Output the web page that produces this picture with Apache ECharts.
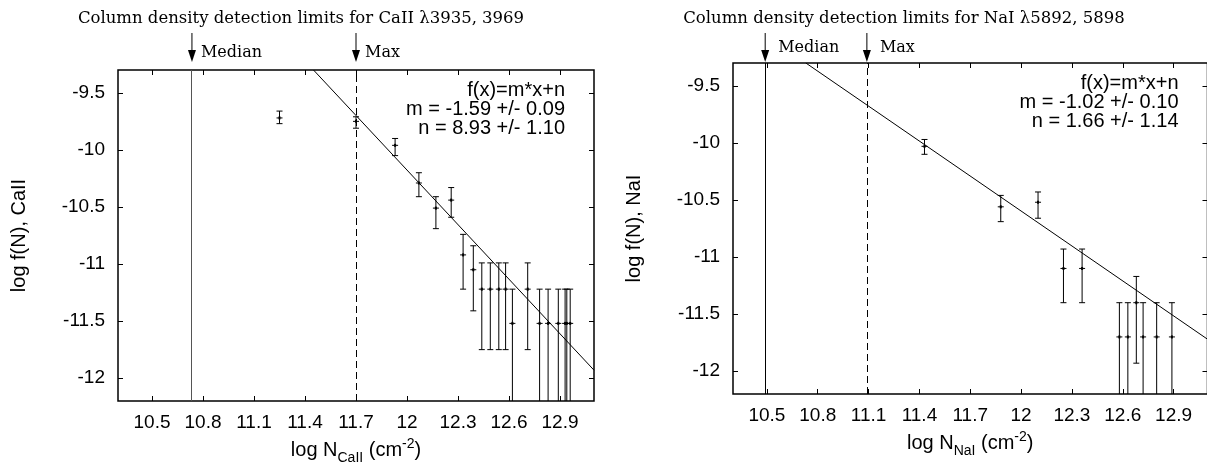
<!DOCTYPE html>
<html>
<head>
<meta charset="utf-8">
<script src="https://cdn.jsdelivr.net/npm/echarts@6/dist/echarts.min.js"></script>
<style>
  html, body { margin: 0; padding: 0; background: #fff; }
  #chart { width: 1207px; height: 467px; }
</style>
</head>
<body>
<div id="chart"></div>
<script>
// tick positions (both panels share them)
var xTicks = [10.5, 10.8, 11.1, 11.4, 11.7, 12, 12.3, 12.6, 12.9];
var yTicks = [-12, -11.5, -11, -10.5, -10, -9.5];

// CaII: log N, log f(N), lower / upper end of the error bar
var caX  = [11.25, 11.70, 11.93, 12.07, 12.17, 12.26, 12.33, 12.39, 12.44, 12.49, 12.54, 12.58, 12.62, 12.71, 12.78, 12.83, 12.89, 12.93, 12.94, 12.96];
var caY  = [-9.72, -9.75, -9.96, -10.29, -10.51, -10.44, -10.92, -11.05, -11.22, -11.22, -11.22, -11.22, -11.52, -11.22, -11.52, -11.52, -11.52, -11.52, -11.52, -11.52];
var caLo = [-9.77, -9.81, -10.05, -10.41, -10.69, -10.59, -11.22, -11.41, -11.75, -11.75, -11.75, -11.75, -12.6, -11.75, -12.6, -12.6, -12.6, -12.6, -12.6, -12.6];
var caHi = [-9.66, -9.71, -9.90, -10.20, -10.41, -10.33, -10.74, -10.84, -10.99, -10.99, -10.99, -10.99, -11.22, -10.99, -11.22, -11.22, -11.22, -11.22, -11.22, -11.22];
var caFitX = [11.45, 13.1];
var caFitY = [-9.3, -11.93];
var caLimitX = [10.735, 11.7];   // Median, Max

// NaI
var naX  = [11.43, 11.88, 12.10, 12.25, 12.36, 12.58, 12.63, 12.68, 12.72, 12.80, 12.89];
var naY  = [-10.03, -10.56, -10.52, -11.10, -11.10, -11.70, -11.70, -11.40, -11.70, -11.70, -11.70];
var naLo = [-10.10, -10.69, -10.66, -11.40, -11.40, -12.6, -12.6, -11.93, -12.6, -12.6, -12.6];
var naHi = [-9.97, -10.46, -10.43, -10.93, -10.93, -11.40, -11.40, -11.17, -11.40, -11.40, -11.40];
var naFitX = [10.73, 13.1];
var naFitY = [-9.3, -11.72];
var naLimitX = [10.49, 11.09];

var limitNames = ['Median', 'Max'];

var panels = [
  {
    grid: { left: 118, top: 70, width: 476, height: 331 },
    title: 'Column density detection limits for CaII λ3935, 3969', titleX: 301,
    xName: '{t|log N}{s|CaII}{t| (cm}{p|-2}{t|)}', yName: 'log f(N), CaII',
    fitText: 'f(x)=m*x+n\nm = -1.59 +/- 0.09\nn = 8.93 +/- 1.10',
    x: caX, y: caY, lo: caLo, hi: caHi, fitX: caFitX, fitY: caFitY, limits: caLimitX,
    medianColor: '#555', limitTextDx: 9, limitTextY: 53
  },
  {
    grid: { left: 733, top: 63, width: 474.5, height: 331 },
    title: 'Column density detection limits for NaI λ5892, 5898', titleX: 904,
    xName: '{t|log N}{s|NaI}{t| (cm}{p|-2}{t|)}', yName: 'log f(N), NaI',
    fitText: 'f(x)=m*x+n\nm = -1.02 +/- 0.10\nn = 1.66 +/- 1.14',
    x: naX, y: naY, lo: naLo, hi: naHi, fitX: naFitX, fitY: naFitY, limits: naLimitX,
    medianColor: '#000', limitTextDx: 13, limitTextY: 48
  }
];

var sans = 'Liberation Sans, Arial, sans-serif';
var serif = 'DejaVu Serif, serif';

function errorRender(params, api) {
  var c = api.coord([api.value(0), api.value(1)]);
  var t = api.coord([api.value(0), api.value(3)]);
  var b = api.coord([api.value(0), api.value(2)]);
  var st = { stroke: '#000', lineWidth: 1 };
  return {
    type: 'group',
    children: [
      { type: 'line', shape: { x1: c[0], y1: t[1], x2: c[0], y2: b[1] }, style: st },
      { type: 'line', shape: { x1: c[0] - 3, y1: t[1], x2: c[0] + 3, y2: t[1] }, style: st },
      { type: 'line', shape: { x1: c[0] - 3, y1: b[1], x2: c[0] + 3, y2: b[1] }, style: st },
      { type: 'line', shape: { x1: c[0] - 3, y1: c[1], x2: c[0] + 3, y2: c[1] }, style: st },
      { type: 'line', shape: { x1: c[0], y1: c[1] - 1.5, x2: c[0], y2: c[1] + 1.5 }, style: { stroke: '#000', lineWidth: 2 } }
    ]
  };
}

var grids = [], xAxes = [], yAxes = [], series = [];
panels.forEach(function (p, i) {
  grids.push({
    left: p.grid.left, top: p.grid.top, width: p.grid.width, height: p.grid.height,
    show: true, borderColor: '#000', borderWidth: 1.5, backgroundColor: 'transparent',
    containLabel: false, outerBoundsMode: 'none'
  });
  var tick = { inside: true, length: 5, customValues: xTicks, lineStyle: { color: '#000', width: 1 } };
  xAxes.push({
    type: 'value', gridIndex: i, min: 10.3, max: 13.1, position: 'bottom',
    axisLine: { show: false }, splitLine: { show: false }, axisTick: tick,
    axisLabel: { customValues: xTicks, margin: 12, fontSize: 19, color: '#000', fontFamily: sans,
      formatter: function (v) { return String(v); } },
    name: p.xName, nameLocation: 'middle', nameGap: 33,
    nameTextStyle: {
      color: '#000', fontFamily: sans, fontSize: 20,
      rich: {
        t: { fontSize: 20, fontFamily: sans, color: '#000', lineHeight: 28, verticalAlign: 'middle' },
        s: { fontSize: 14, fontFamily: sans, color: '#000', verticalAlign: 'bottom' },
        p: { fontSize: 14, fontFamily: sans, color: '#000', verticalAlign: 'top' }
      }
    }
  });
  xAxes.push({
    type: 'value', gridIndex: i, min: 10.3, max: 13.1, position: 'top',
    axisLine: { show: false }, splitLine: { show: false }, axisTick: tick, axisLabel: { show: false }
  });
  var ytick = { inside: true, length: 5, customValues: yTicks, lineStyle: { color: '#000', width: 1 } };
  yAxes.push({
    type: 'value', gridIndex: i, min: -12.2, max: -9.3, position: 'left',
    axisLine: { show: false }, splitLine: { show: false }, axisTick: ytick,
    axisLabel: { customValues: yTicks, margin: 13, fontSize: 19, color: '#000', fontFamily: sans,
      formatter: function (v) { return String(v); } },
    name: p.yName, nameLocation: 'middle', nameGap: 89, nameRotate: 90,
    nameTextStyle: { color: '#000', fontFamily: sans, fontSize: 20 }
  });
  yAxes.push({
    type: 'value', gridIndex: i, min: -12.2, max: -9.3, position: 'right',
    axisLine: { show: false }, splitLine: { show: false }, axisTick: ytick, axisLabel: { show: false }
  });

  series.push({
    type: 'line', xAxisIndex: 2 * i, yAxisIndex: 2 * i,
    data: p.fitX.map(function (x, k) { return [x, p.fitY[k]]; }),
    showSymbol: false, symbol: 'none', clip: true,
    lineStyle: { color: '#000', width: 1 },
    markLine: {
      silent: true, symbol: ['none', 'none'], label: { show: false },
      data: [
        { xAxis: p.limits[0], lineStyle: { type: 'solid', color: p.medianColor, width: 1 } },
        { xAxis: p.limits[1], lineStyle: { type: [7, 4], color: '#000', width: 1 } }
      ]
    }
  });
  series.push({
    type: 'custom', xAxisIndex: 2 * i, yAxisIndex: 2 * i, clip: true,
    data: p.x.map(function (x, k) { return [x, p.y[k], p.lo[k], p.hi[k]]; }),
    renderItem: errorRender
  });
});

var chart = echarts.init(document.getElementById('chart'));
chart.setOption({
  animation: false,
  backgroundColor: '#fff',
  grid: grids, xAxis: xAxes, yAxis: yAxes, series: series
});

// titles, arrows and fit text placed from the axes
var gfx = [];
panels.forEach(function (p, i) {
  gfx.push({
    type: 'text', x: p.titleX, y: 19,
    style: { text: p.title, font: '16.5px ' + serif, fill: '#000', textAlign: 'center', textVerticalAlign: 'middle' }
  });
  gfx.push({
    type: 'text', x: p.grid.left + p.grid.width - 29, y: p.grid.top + 10.5,
    style: { text: p.fitText, font: '20px ' + sans, lineHeight: 19, fill: '#000', textAlign: 'right', textVerticalAlign: 'top' }
  });
  p.limits.forEach(function (lx, j) {
    var px = chart.convertToPixel({ xAxisIndex: 2 * i }, lx);
    gfx.push({ type: 'line', shape: { x1: px, y1: 33, x2: px, y2: 52 }, style: { stroke: '#000', lineWidth: 1 } });
    gfx.push({ type: 'polygon', shape: { points: [[px - 4, 50], [px + 4, 50], [px, 62]] }, style: { fill: '#000' } });
    gfx.push({
      type: 'text', x: px + p.limitTextDx, y: p.limitTextY,
      style: { text: limitNames[j], font: '16px ' + serif, fill: '#000', textAlign: 'left', textVerticalAlign: 'middle' }
    });
  });
});
chart.setOption({ graphic: gfx });

window.addEventListener('resize', function () { chart.resize(); });
</script>
</body>
</html>
